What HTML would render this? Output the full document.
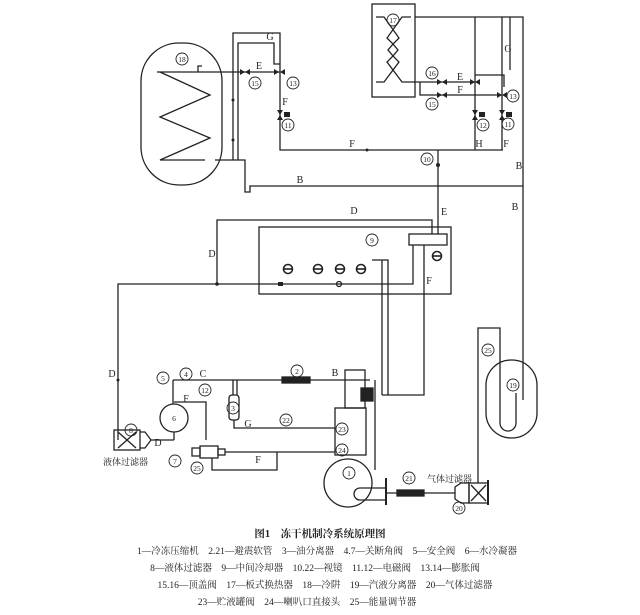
<!DOCTYPE html>
<html><head><meta charset="utf-8"><style>
html,body{margin:0;padding:0;background:#fff;}
svg{display:block;}
text{font-family:"Liberation Serif","Noto Serif CJK SC",serif;fill:#222;}
.c{font-family:"Liberation Serif","Noto Sans CJK SC",sans-serif;}
</style></head><body>
<svg width="640" height="615" viewBox="0 0 640 615" xmlns="http://www.w3.org/2000/svg">
<g fill="none" stroke="#222" stroke-width="1.3">
<rect x="141" y="43" width="81" height="142" rx="38"/>
<polyline points="160,72 210,95 160,117 210,138 160,160 205,160"/>
<line x1="157" y1="72" x2="280" y2="72"/>
<line x1="215" y1="160" x2="240" y2="160"/>
<path d="M198,72 v-6 h4"/>
<polyline points="233,160 233,33 280,33 280,150 503,150"/>
<polyline points="238,160 238,43 274,43 274,64 280,64"/>
<polyline points="240,160 245,160 245,192 250,192 250,186 523,186"/>
<rect x="372" y="4" width="43" height="93"/>
<polyline points="376,17 384,17 399,38 393,44 398,50 393,56 399,62 384,82 376,82"/>
<polyline points="411,17 402,17 387,38 393,44 388,50 393,56 387,62 402,82 411,82"/>
<polyline points="415,17 523,17 523,400"/>
<polyline points="411,82 475,82"/>
<polyline points="420,82 420,95 502,95"/>
<line x1="475" y1="17" x2="475" y2="150"/>
<line x1="502" y1="17" x2="502" y2="150"/>
<polyline points="475,75 504,75 504,87"/>
<line x1="510" y1="17" x2="510" y2="70"/>
<line x1="438" y1="150" x2="438" y2="234"/>
<rect x="259" y="227" width="192" height="67"/>
<rect x="409" y="234" width="38" height="11"/>
<polyline points="118,440 118,284 413,284 413,245"/>
<polyline points="217,284 217,220 432,220 432,234"/>
<polyline points="424,245 424,395 382,395"/>
<polyline points="372,260 388,260 388,395"/>
<line x1="382" y1="260" x2="382" y2="395"/>
<g stroke-width="1.6">
<circle cx="288" cy="269" r="4.5"/><circle cx="318" cy="269" r="4.5"/><circle cx="340" cy="269" r="4.5"/><circle cx="361" cy="269" r="4.5"/><circle cx="437" cy="256" r="4.5"/>
<line x1="284" y1="269" x2="292" y2="269"/><line x1="314" y1="269" x2="322" y2="269"/><line x1="336" y1="269" x2="344" y2="269"/><line x1="357" y1="269" x2="365" y2="269"/><line x1="433" y1="256" x2="441" y2="256"/>
</g>
<circle cx="339" cy="284" r="2.5"/>
<polyline points="173,380 370,380"/>
<line x1="173" y1="380" x2="173" y2="404"/>
<circle cx="174" cy="418" r="14"/>
<line x1="174" y1="432" x2="174" y2="440"/>
<polyline points="174,402 206,402 206,440"/>
<rect x="229" y="395" width="10" height="25" rx="3"/>
<line x1="233" y1="380" x2="233" y2="395"/><line x1="237" y1="380" x2="237" y2="395"/>
<polyline points="234,420 234,428 335,428"/>
<rect x="282" y="377" width="28" height="6" fill="#222"/>
<rect x="345" y="370" width="20" height="38"/>
<rect x="335" y="408" width="31" height="47"/>
<rect x="361" y="388" width="12" height="13" fill="#222"/>
<circle cx="348" cy="483" r="24"/>
<polyline points="375,380 375,470"/>
<path d="M385,488 h-25 a6,6 0 0 0 0,12 h25"/>
<line x1="386" y1="478" x2="386" y2="505" stroke-width="2"/>
<rect x="114" y="430" width="26" height="20"/>
<line x1="118" y1="432" x2="136" y2="448"/><line x1="136" y1="432" x2="118" y2="448"/>
<path d="M140,432 h5 l6,8 l-6,8 h-5"/>
<polyline points="151,440 174,440"/>
<rect x="200" y="446" width="18" height="12"/>
<rect x="192" y="448" width="8" height="8"/>
<rect x="218" y="449" width="7" height="6"/>
<polyline points="225,452 335,452"/>
<polyline points="212,458 212,470 277,470 277,452"/>
<line x1="386" y1="493" x2="455" y2="493"/>
<rect x="397" y="490" width="27" height="6" fill="#222"/>
<path d="M455,487 l6,-4 h8 v20 h-8 l-6,-4 z"/>
<rect x="469" y="483" width="19" height="20"/>
<line x1="488" y1="480" x2="488" y2="505" stroke-width="2"/>
<line x1="471" y1="485" x2="486" y2="501"/><line x1="486" y1="485" x2="471" y2="501"/>
<polyline points="478,483 478,328 500,328 500,378"/>
<rect x="486" y="360" width="51" height="78" rx="25"/>
<path d="M500,378 v45 a8,8 0 0 0 16,0 v-30"/>
</g>
<g fill="#222">
<polygon points="240,69 245,72 240,75"/><polygon points="250,69 245,72 250,75"/>
<polygon points="274,69 279,72 274,75"/><polygon points="285,69 280,72 285,75"/>
<polygon points="277,110 283,110 280,115"/><polygon points="277,120 283,120 280,115"/>
<rect x="284" y="112" width="6" height="5"/>
<polygon points="437,79 442,82 437,85"/><polygon points="447,79 442,82 447,85"/>
<polygon points="470,79 475,82 470,85"/><polygon points="480,79 475,82 480,85"/>
<polygon points="437,92 442,95 437,98"/><polygon points="447,92 442,95 447,98"/>
<polygon points="497,92 502,95 497,98"/><polygon points="507,92 502,95 507,98"/>
<polygon points="472,110 478,110 475,115"/><polygon points="472,120 478,120 475,115"/><rect x="479" y="112" width="6" height="5"/>
<polygon points="499,110 505,110 502,115"/><polygon points="499,120 505,120 502,115"/><rect x="506" y="112" width="6" height="5"/>
<circle cx="233" cy="100" r="1.5"/><circle cx="233" cy="140" r="1.5"/><circle cx="367" cy="150" r="1.5"/><circle cx="438" cy="165" r="2"/>
<circle cx="217" cy="284" r="1.8"/><rect x="278" y="282" width="5" height="4"/>
<circle cx="118" cy="380" r="1.5"/>
</g>
<g font-size="10" text-anchor="middle">
<text x="270" y="40">G</text><text x="259" y="69">E</text><text x="285" y="105">F</text>
<text x="352" y="147">F</text><text x="300" y="183">B</text>
<text x="460" y="80">E</text><text x="460" y="93">F</text><text x="508" y="52">G</text>
<text x="479" y="147">H</text><text x="506" y="147">F</text><text x="519" y="169">B</text><text x="515" y="210">B</text>
<text x="444" y="215">E</text><text x="354" y="214">D</text><text x="212" y="257">D</text><text x="429" y="284">F</text>
<text x="112" y="377">D</text><text x="203" y="377">C</text><text x="335" y="376">B</text>
<text x="186" y="402">F</text><text x="248" y="427">G</text><text x="258" y="463">F</text><text x="158" y="446">D</text>
</g>
<g font-size="8" text-anchor="middle" fill="none" stroke="#222" stroke-width="0.9">
<circle cx="182" cy="59" r="6"/><circle cx="255" cy="83" r="6"/><circle cx="293" cy="83" r="6"/><circle cx="288" cy="125" r="6"/>
<circle cx="393" cy="20" r="6"/><circle cx="432" cy="73" r="6"/><circle cx="432" cy="104" r="6"/><circle cx="513" cy="96" r="6"/>
<circle cx="483" cy="125" r="6"/><circle cx="508" cy="124" r="6"/><circle cx="427" cy="159" r="6"/>
<circle cx="372" cy="240" r="6"/><circle cx="163" cy="378" r="6"/><circle cx="186" cy="374" r="6"/><circle cx="297" cy="371" r="6"/>
<circle cx="205" cy="390" r="6"/><circle cx="233" cy="408" r="6"/><circle cx="286" cy="420" r="6"/><circle cx="342" cy="429" r="6"/>
<circle cx="342" cy="450" r="6"/><circle cx="175" cy="461" r="6"/><circle cx="131" cy="430" r="6"/><circle cx="197" cy="468" r="6"/>
<circle cx="349" cy="473" r="6"/><circle cx="409" cy="478" r="6"/><circle cx="459" cy="508" r="6"/><circle cx="488" cy="350" r="6"/><circle cx="513" cy="385" r="6"/>
</g>
<g font-size="7.5" text-anchor="middle">
<text x="182" y="62">18</text><text x="255" y="86">15</text><text x="293" y="86">13</text><text x="288" y="128">11</text>
<text x="393" y="23">17</text><text x="432" y="76">16</text><text x="432" y="107">15</text><text x="513" y="99">13</text>
<text x="483" y="128">12</text><text x="508" y="127">11</text><text x="427" y="162">10</text>
<text x="372" y="243">9</text><text x="163" y="381">5</text><text x="186" y="377">4</text><text x="297" y="374">2</text>
<text x="205" y="393">12</text><text x="233" y="411">3</text><text x="286" y="423">22</text><text x="342" y="432">23</text>
<text x="342" y="453">24</text><text x="175" y="464">7</text><text x="131" y="433">8</text><text x="197" y="471">25</text>
<text x="349" y="476">1</text><text x="409" y="481">21</text><text x="459" y="511">20</text><text x="488" y="353">25</text><text x="513" y="388">19</text>
<text x="174" y="421">6</text>
</g>
<g class="c" font-size="9">
<text x="103" y="465">液体过滤器</text>
<text x="427" y="482">气体过滤器</text>
</g>
<g class="c" font-size="9.5" text-anchor="middle">
<text x="320" y="537" font-size="10.5" font-weight="bold">图1　冻干机制冷系统原理图</text>
<text x="327" y="554">1—冷冻压缩机　2.21—避震软管　3—油分离器　4.7—关断角阀　5—安全阀　6—水冷凝器</text>
<text x="315" y="571">8—液体过滤器　9—中间冷却器　10.22—视镜　11.12—电磁阀　13.14—膨胀阀</text>
<text x="325" y="588">15.16—顶盖阀　17—板式换热器　18—冷阱　19—汽液分离器　20—气体过滤器</text>
<text x="307" y="605">23—贮液罐阀　24—喇叭口直接头　25—能量调节器</text>
</g>
</svg>
</body></html>
